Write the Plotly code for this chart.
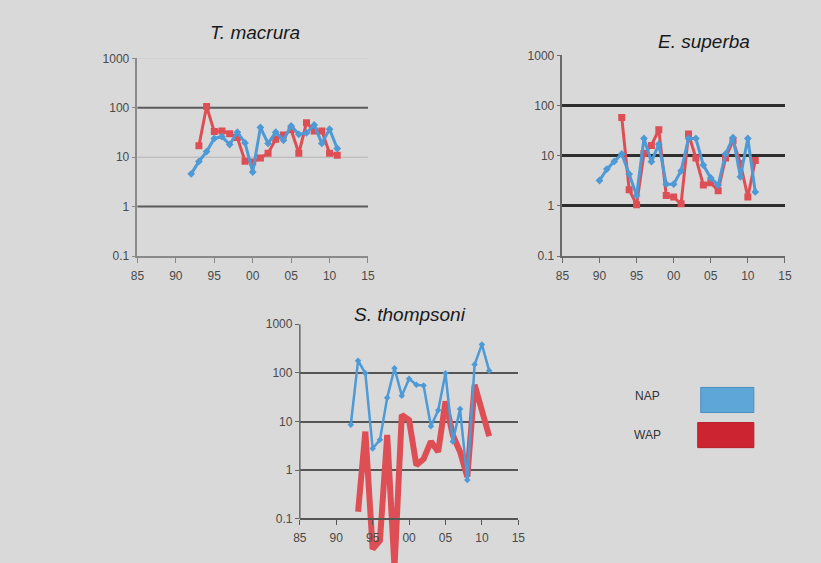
import plotly.graph_objects as go

# The page is shown inside an 8px body margin and the photo is scaled to the window,
# so positions are given in window pixels and converted to figure pixels.
WIN_W, WIN_H = 821, 563
MARGIN = 8
SX = WIN_W / (WIN_W + 2 * MARGIN)
SY = WIN_H / (WIN_H + 2 * MARGIN)
W, H = WIN_W + MARGIN, WIN_H + MARGIN

tm_nap_years = list(range(1992, 2012))
tm_nap = [4.6, 8.2, 13, 24, 26, 18, 32, 19.5, 5.0, 40, 19, 32, 22, 43, 29, 31, 45, 19, 37, 15]
tm_wap_years = list(range(1993, 2012))
tm_wap = [17, 106, 33, 34, 30, 25, 8.3, 8.0, 9.6, 12, 23, 28, 36, 12, 50, 34, 34, 12, 11]

es_nap_years = list(range(1990, 2012))
es_nap = [3.2, 5.4, 7.7, 10.8, 4.3, 1.6, 22, 7.6, 17, 2.7, 2.7, 5.0, 22, 22, 6.5, 3.6, 2.6, 10.8, 23, 3.8, 22, 1.9]
es_wap_years = list(range(1993, 2012))
es_wap = [58, 2.1, 1.05, 11, 16, 33, 1.6, 1.5, 1.1, 27, 9, 2.6, 2.9, 2.0, 9, 20, 7, 1.5, 8]

st_nap_years = list(range(1992, 2012))
st_nap = [8.6, 178, 98, 2.8, 4.2, 31, 124, 34, 76, 57, 55, 8.0, 17, 98, 3.9, 18, 0.63, 148, 385, 110]
st_wap_years = list(range(1993, 2012))
st_wap = [0.14, 6.2, 0.024, 0.036, 5.3, 0.01, 13.7, 10.8, 1.27, 1.7, 3.9, 2.4, 26, 5.3, 2.4, 0.73, 57, 16, 5]

x_tickvals = [1985, 1990, 1995, 2000, 2005, 2010, 2015]
x_ticktext = ["85", "90", "95", "00", "05", "10", "15"]
y_tickvals = [0.1, 1, 10, 100, 1000]
y_ticktext = ["0.1", "1", "10", "100", "1000"]

titles = ["T. macrura", "E. superba", "S. thompsoni"]
legend_names = ["NAP", "WAP"]

NAP_C = "#4d9ad6"
WAP_C = "#de4f55"
BG = "#d9d9d9"
FONT = "Liberation Sans"
TICK_C = "#4a4a4a"

def figx(X):
    return X / SX - MARGIN

def figy(Y):
    return Y / SY - MARGIN

def fx(X):
    return max(0.0, min(1.0, figx(X) / W))

def fy(Y):
    return max(0.0, min(1.0, 1 - figy(Y) / H))

fig = go.Figure()
fig.add_trace(go.Scatter(x=tm_wap_years, y=tm_wap, mode="lines+markers", xaxis="x", yaxis="y",
                         line=dict(color=WAP_C, width=3), marker=dict(symbol="square", size=7, color=WAP_C),
                         showlegend=False))
fig.add_trace(go.Scatter(x=tm_nap_years, y=tm_nap, mode="lines+markers", xaxis="x", yaxis="y",
                         line=dict(color=NAP_C, width=3), marker=dict(symbol="diamond", size=6, color=NAP_C),
                         showlegend=False))
fig.add_trace(go.Scatter(x=es_wap_years, y=es_wap, mode="lines+markers", xaxis="x2", yaxis="y2",
                         line=dict(color=WAP_C, width=3), marker=dict(symbol="square", size=7, color=WAP_C),
                         showlegend=False))
fig.add_trace(go.Scatter(x=es_nap_years, y=es_nap, mode="lines+markers", xaxis="x2", yaxis="y2",
                         line=dict(color=NAP_C, width=3), marker=dict(symbol="diamond", size=6, color=NAP_C),
                         showlegend=False))
fig.add_trace(go.Scatter(x=st_wap_years, y=st_wap, mode="lines", xaxis="x3", yaxis="y3",
                         line=dict(color=WAP_C, width=6), showlegend=False))
fig.add_trace(go.Scatter(x=st_nap_years, y=st_nap, mode="lines+markers", xaxis="x3", yaxis="y3",
                         line=dict(color=NAP_C, width=2.5), marker=dict(symbol="diamond", size=5, color=NAP_C),
                         showlegend=False))

tickfont = dict(family=FONT, size=12, color=TICK_C)

def xax(domain, anchor, linecolor, position=None):
    d = dict(domain=domain, range=[1985, 2015], tickvals=x_tickvals, ticktext=x_ticktext,
             showgrid=False, zeroline=False, showline=True, linecolor=linecolor, linewidth=1.5,
             ticks="outside", ticklen=5, tickcolor=linecolor, tickwidth=1, tickfont=tickfont,
             ticklabelstandoff=3, fixedrange=True)
    if position is None:
        d["anchor"] = anchor
    else:
        d["anchor"] = "free"
        d["position"] = position
    return d

def yax(domain, anchor, rng, showgrid, gridcolor, gridwidth, linecolor, showline=True):
    return dict(domain=domain, anchor=anchor, type="log", range=rng, tickvals=y_tickvals,
                ticktext=y_ticktext, showgrid=showgrid, gridcolor=gridcolor, gridwidth=gridwidth,
                zeroline=False, showline=showline, linecolor=linecolor, linewidth=1.5,
                ticks="outside", ticklen=4, tickcolor=linecolor, tickfont=tickfont,
                ticklabelstandoff=0, fixedrange=True)

fig.update_layout(
    xaxis=xax([fx(138), fx(368)], "y", "#8a8a8a"),
    yaxis=yax([fy(256), fy(59)], "x", [-1, 3], False, "#000", 1, "#8a8a8a"),
    xaxis2=xax([fx(562), fx(784)], "y2", "#6a6a6a"),
    yaxis2=yax([fy(256), fy(56)], "x2", [-1, 3], True, "#2e2e2e", 2.5, "#6a6a6a"),
)
dec3 = (figy(518) - figy(324)) / 4.0
low3 = -1 - (H - figy(518)) / dec3
fig.update_layout(
    xaxis3=xax([fx(300), fx(518)], "y3", "#555555", position=fy(518)),
    yaxis3=yax([0, fy(324)], "x3", [low3, 3], True, "#555555", 2, "#666666", showline=False),
)

shapes = []
for v, c, w in [(1000, "#c6c6c6", 1), (100, "#5a5a5a", 2), (10, "#b4b4b4", 1), (1, "#5a5a5a", 2)]:
    shapes.append(dict(type="line", xref="x domain", yref="y", x0=0, x1=1, y0=v, y1=v,
                       line=dict(color=c, width=w), layer="below"))
shapes.append(dict(type="line", xref="x3 domain", yref="y3", x0=0, x1=0, y0=0.1, y1=1000,
                   line=dict(color="#666666", width=1.5), layer="above"))
shapes.append(dict(type="rect", xref="paper", yref="paper", x0=fx(700), x1=fx(753), y0=fy(412), y1=fy(387),
                   fillcolor="#5fa6d8", line=dict(color="#4b8fc4", width=1)))
shapes.append(dict(type="rect", xref="paper", yref="paper", x0=fx(697), x1=fx(753), y0=fy(447), y1=fy(422),
                   fillcolor="#cc2431", line=dict(color="#b81f2b", width=1)))

annotations = []
title_font = dict(family=FONT, size=19, color="#1a1a1a")
for t, (px, py) in zip(titles, [(255, 33), (703, 42), (410, 314)]):
    annotations.append(dict(text="<i>%s</i>" % t, xref="paper", yref="paper", x=fx(px), y=fy(py),
                            showarrow=False, font=title_font, xanchor="center", yanchor="middle"))
for name, py in zip(legend_names, [396, 434]):
    annotations.append(dict(text=name, xref="paper", yref="paper", x=fx(647), y=fy(py), showarrow=False,
                            font=dict(family=FONT, size=12, color="#333333"), xanchor="center", yanchor="middle"))

fig.update_layout(
    width=W, height=H, margin=dict(l=0, r=0, t=0, b=0),
    paper_bgcolor=BG, plot_bgcolor="rgba(0,0,0,0)",
    shapes=shapes, annotations=annotations, showlegend=False,
)

fig.write_html("out.html", config={"displayModeBar": False})
